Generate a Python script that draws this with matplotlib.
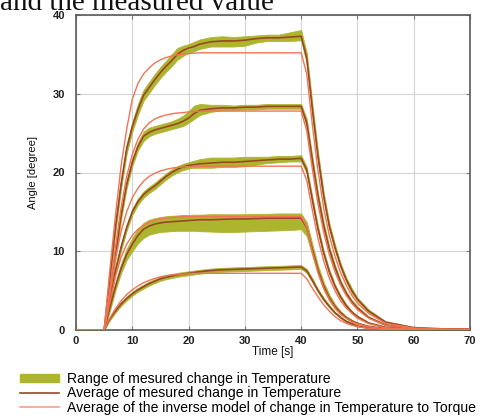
import matplotlib
matplotlib.use("Agg")
import matplotlib.pyplot as plt
from matplotlib.patches import Patch
from matplotlib.lines import Line2D

# Sample times [s]
t = [0, 5, 6, 7, 8, 9, 10, 11, 12, 13, 14, 15, 16, 17, 18, 19, 20, 21, 22,
     24, 26, 28, 30, 32, 34, 36, 38, 40,
     41, 42, 43, 44, 45, 46, 47, 48, 49, 50, 52, 55, 60, 65, 70]

# Level 1
mean1 = [0, 0, 6.5, 13, 18.5, 23, 25.8, 28, 29.8, 30.8, 31.8, 32.7, 33.5, 34.2, 35.0, 35.5, 35.8, 36.0, 36.3,
         36.6, 36.7, 36.7, 36.8, 37.0, 37.1, 37.1, 37.2, 37.3,
         34.5, 28.0, 22.0, 17.0, 13.2, 10.5, 8.2, 6.4, 5.0, 3.9, 2.4, 1.0, 0.3, 0.15, 0.1]
lo1 = [0, 0, 6.0, 12.4, 17.9, 22.4, 25.2, 27.3, 29.1, 30.1, 31.1, 32.0, 32.8, 33.5, 34.3, 34.8, 35.2, 35.4, 35.7,
       36.0, 36.0, 36.0, 36.1, 36.5, 36.7, 36.7, 36.7, 36.8,
       33.8, 27.3, 21.4, 16.5, 12.8, 10.1, 7.9, 6.1, 4.7, 3.7, 2.2, 0.9, 0.25, 0.12, 0.08]
hi1 = [0, 0, 7.0, 13.6, 19.1, 23.6, 26.4, 28.7, 30.5, 31.5, 32.5, 33.4, 34.2, 35.0, 35.8, 36.1, 36.3, 36.6, 36.9,
       37.2, 37.3, 37.2, 37.3, 37.4, 37.5, 37.5, 37.8, 38.1,
       35.2, 28.7, 22.6, 17.5, 13.6, 10.9, 8.5, 6.7, 5.3, 4.1, 2.6, 1.1, 0.35, 0.18, 0.12]
model1 = [0, 0, 7.5, 14.5, 20.8, 25.5, 29.3, 31.3, 32.5, 33.3, 33.9, 34.3, 34.6, 34.8, 34.95, 35.05, 35.1, 35.15, 35.2,
          35.2, 35.2, 35.2, 35.2, 35.2, 35.2, 35.2, 35.2, 35.2,
          32.5, 26.0, 20.2, 15.5, 12.0, 9.4, 7.3, 5.7, 4.4, 3.4, 2.1, 0.85, 0.25, 0.12, 0.08]

# Level 2
mean2 = [0, 0, 4.5, 9.5, 14.5, 18.5, 21.3, 23.3, 24.6, 25.1, 25.4, 25.6, 25.8, 26.0, 26.2, 26.5, 26.9, 27.5, 27.9,
         28.1, 28.2, 28.2, 28.3, 28.3, 28.4, 28.4, 28.4, 28.4,
         26.3, 21.5, 17.0, 13.3, 10.3, 8.0, 6.1, 4.7, 3.6, 2.8, 1.6, 0.65, 0.2, 0.1, 0.06]
lo2 = [0, 0, 4.1, 9.0, 14.0, 18.0, 20.8, 22.8, 24.0, 24.6, 24.9, 25.1, 25.3, 25.5, 25.7, 25.9, 26.3, 26.8, 27.3,
       27.7, 27.9, 27.9, 28.0, 28.0, 28.1, 28.1, 28.1, 28.1,
       25.8, 21.0, 16.6, 12.9, 10.0, 7.7, 5.9, 4.5, 3.4, 2.6, 1.5, 0.6, 0.17, 0.08, 0.05]
hi2 = [0, 0, 4.9, 10.0, 15.0, 19.0, 21.8, 23.8, 25.2, 25.7, 25.9, 26.1, 26.3, 26.5, 26.8, 27.2, 27.8, 28.5, 28.7,
       28.6, 28.6, 28.5, 28.6, 28.6, 28.7, 28.7, 28.7, 28.7,
       26.8, 22.0, 17.4, 13.7, 10.6, 8.3, 6.3, 4.9, 3.8, 3.0, 1.7, 0.7, 0.23, 0.12, 0.07]
model2 = [0, 0, 5.0, 10.5, 15.5, 19.5, 22.3, 24.2, 25.5, 26.3, 26.8, 27.1, 27.3, 27.45, 27.55, 27.6, 27.7, 27.75, 27.8,
          27.8, 27.8, 27.8, 27.8, 27.8, 27.8, 27.8, 27.8, 27.8,
          25.3, 20.4, 16.0, 12.4, 9.6, 7.4, 5.7, 4.4, 3.4, 2.6, 1.5, 0.6, 0.18, 0.09, 0.05]

# Level 3
mean3 = [0, 0, 3.5, 7.5, 10.5, 13.0, 15.0, 16.3, 17.2, 17.8, 18.3, 18.9, 19.5, 20.0, 20.4, 20.7, 20.9, 21.0, 21.1,
         21.2, 21.3, 21.3, 21.4, 21.5, 21.6, 21.7, 21.7, 21.8,
         20.3, 16.5, 12.8, 9.8, 7.4, 5.6, 4.2, 3.1, 2.3, 1.7, 0.9, 0.35, 0.1, 0.05, 0.03]
lo3 = [0, 0, 3.2, 7.1, 10.1, 12.6, 14.6, 15.9, 16.8, 17.4, 17.9, 18.5, 19.1, 19.6, 20.0, 20.3, 20.5, 20.6, 20.6,
       20.6, 20.7, 20.7, 20.8, 21.0, 21.2, 21.3, 21.4, 21.4,
       19.9, 16.1, 12.4, 9.5, 7.1, 5.4, 4.0, 2.9, 2.2, 1.6, 0.85, 0.32, 0.08, 0.04, 0.02]
hi3 = [0, 0, 3.8, 7.9, 10.9, 13.4, 15.4, 16.7, 17.6, 18.2, 18.7, 19.3, 19.9, 20.4, 20.8, 21.1, 21.3, 21.5, 21.7,
       21.9, 21.9, 21.9, 22.0, 22.0, 22.0, 22.1, 22.1, 22.2,
       20.7, 16.9, 13.2, 10.1, 7.7, 5.8, 4.4, 3.3, 2.4, 1.8, 0.95, 0.38, 0.12, 0.06, 0.04]
model3 = [0, 0, 4.5, 9.0, 12.5, 15.0, 16.8, 18.0, 18.9, 19.5, 19.9, 20.2, 20.4, 20.55, 20.65, 20.7, 20.75, 20.8, 20.8,
          20.8, 20.8, 20.8, 20.8, 20.8, 20.8, 20.8, 20.8, 20.8,
          19.0, 15.2, 11.6, 8.8, 6.6, 5.0, 3.7, 2.8, 2.1, 1.5, 0.8, 0.3, 0.08, 0.04, 0.02]

# Level 4
mean4 = [0, 0, 2.8, 5.5, 7.8, 9.6, 10.9, 12.0, 12.8, 13.2, 13.45, 13.6, 13.7, 13.75, 13.8, 13.85, 13.9, 13.95, 14.0,
         14.0, 14.05, 14.1, 14.1, 14.15, 14.2, 14.2, 14.2, 14.2,
         13.0, 10.2, 7.6, 5.6, 4.1, 3.0, 2.2, 1.6, 1.15, 0.85, 0.45, 0.18, 0.05, 0.03, 0.02]
lo4 = [0, 0, 2.4, 5.0, 7.2, 8.9, 10.0, 11.0, 11.7, 12.1, 12.3, 12.45, 12.5, 12.55, 12.6, 12.6, 12.6, 12.6, 12.55,
       12.5, 12.45, 12.45, 12.5, 12.55, 12.6, 12.65, 12.7, 12.8,
       11.9, 9.4, 7.0, 5.1, 3.7, 2.7, 2.0, 1.45, 1.05, 0.75, 0.4, 0.15, 0.04, 0.02, 0.01]
hi4 = [0, 0, 3.2, 6.0, 8.4, 10.3, 11.7, 12.8, 13.6, 14.0, 14.2, 14.35, 14.45, 14.5, 14.55, 14.6, 14.6, 14.65, 14.65,
       14.7, 14.7, 14.7, 14.7, 14.75, 14.75, 14.8, 14.8, 14.8,
       13.7, 10.9, 8.2, 6.1, 4.5, 3.3, 2.4, 1.75, 1.3, 0.95, 0.5, 0.21, 0.07, 0.04, 0.03]
model4 = [0, 0, 3.5, 6.8, 9.2, 10.9, 12.0, 12.8, 13.3, 13.7, 13.95, 14.1, 14.2, 14.3, 14.35, 14.4, 14.4, 14.4, 14.4,
          14.4, 14.4, 14.4, 14.4, 14.4, 14.4, 14.4, 14.4, 14.4,
          13.1, 9.9, 7.3, 5.3, 3.9, 2.8, 2.0, 1.5, 1.05, 0.78, 0.4, 0.16, 0.04, 0.02, 0.01]

# Level 5
mean5 = [0, 0, 1.4, 2.4, 3.3, 4.0, 4.6, 5.1, 5.5, 5.9, 6.2, 6.5, 6.7, 6.85, 7.0, 7.1, 7.2, 7.3, 7.4,
         7.55, 7.65, 7.7, 7.75, 7.8, 7.85, 7.9, 7.95, 8.0,
         7.5, 6.3, 5.0, 3.9, 3.0, 2.2, 1.6, 1.1, 0.8, 0.5, 0.25, 0.1, 0.04, 0.02, 0.01]
lo5 = [0, 0, 1.2, 2.2, 3.05, 3.75, 4.35, 4.85, 5.25, 5.65, 5.95, 6.25, 6.45, 6.6, 6.75, 6.85, 6.95, 7.05, 7.15,
       7.3, 7.4, 7.45, 7.5, 7.55, 7.6, 7.65, 7.7, 7.75,
       7.25, 6.05, 4.8, 3.7, 2.85, 2.1, 1.5, 1.0, 0.72, 0.45, 0.22, 0.08, 0.03, 0.01, 0.0]
hi5 = [0, 0, 1.6, 2.6, 3.55, 4.25, 4.85, 5.35, 5.75, 6.15, 6.45, 6.75, 6.95, 7.1, 7.25, 7.35, 7.45, 7.55, 7.65,
       7.8, 7.9, 7.95, 8.0, 8.05, 8.1, 8.15, 8.2, 8.25,
       7.75, 6.55, 5.2, 4.1, 3.15, 2.3, 1.7, 1.2, 0.88, 0.55, 0.28, 0.12, 0.05, 0.03, 0.02]
model5 = [0, 0, 1.5, 2.7, 3.7, 4.5, 5.1, 5.6, 6.0, 6.3, 6.55, 6.75, 6.9, 7.0, 7.05, 7.1, 7.15, 7.2, 7.2,
          7.2, 7.2, 7.2, 7.2, 7.2, 7.2, 7.2, 7.2, 7.2,
          6.5, 5.3, 4.2, 3.2, 2.4, 1.7, 1.2, 0.85, 0.6, 0.42, 0.2, 0.08, 0.02, 0.01, 0.0]

levels = [
    (lo1, hi1, mean1, model1),
    (lo2, hi2, mean2, model2),
    (lo3, hi3, mean3, model3),
    (lo4, hi4, mean4, model4),
    (lo5, hi5, mean5, model5),
]

legend_labels = [
    "Range of mesured change in Temperature",
    "Average of mesured change in Temperature",
    "Average of the inverse model of change in Temperature to Torque",
]

band_color = "#adb52f"
mean_color = "#9a4726"
model_color = "#f07454"

plt.rcParams["font.family"] = ["Liberation Sans", "DejaVu Sans"]

fig = plt.figure(figsize=(4.89, 4.16), dpi=100)
ax = fig.add_axes([76 / 489, 1 - 330 / 416, (470 - 76) / 489, (330 - 15) / 416])

for lo, hi, mean, model in levels:
    ax.fill_between(t, lo, hi, color=band_color, lw=0.6, edgecolor=band_color, zorder=2)
for lo, hi, mean, model in levels:
    ax.plot(t, mean, color=mean_color, lw=1.2, zorder=3)
for lo, hi, mean, model in levels:
    ax.plot(t, model, color=model_color, lw=1.0, zorder=4)

ax.set_xlim(0, 70)
ax.set_ylim(0, 40)
ax.set_xticks(range(0, 71, 10))
ax.set_yticks(range(0, 41, 10))
ax.grid(True, color="#d4d4d4", lw=0.8, zorder=0)
ax.set_axisbelow(True)
for s in ax.spines.values():
    s.set_color("#5a5a5a")
    s.set_linewidth(1.2)
ax.tick_params(direction="in", length=3, color="#7a7a7a", labelsize=8,
               labelcolor="#222222", top=True, right=True)
ax.tick_params(axis="x", pad=4)
ax.tick_params(axis="y", pad=8)
for lab in ax.get_xticklabels() + ax.get_yticklabels():
    lab.set_fontweight("bold")

ax.set_xlabel("Time [s]", fontsize=8.5, labelpad=0, color="#111111")
ax.set_ylabel("Angle [degree]", fontsize=8, labelpad=10, color="#111111")

handles = [
    Patch(facecolor=band_color, edgecolor=band_color),
    Line2D([], [], color=mean_color, lw=1.2),
    Line2D([], [], color="#f4a08a", lw=1.2),
]
fig.legend(handles, legend_labels, loc="upper left", bbox_to_anchor=(20 / 489, 1 - 372 / 416),
           frameon=False, fontsize=10.1, handlelength=2.8, handletextpad=0.55,
           labelspacing=0.02, borderpad=0, borderaxespad=0, handleheight=0.55)

fig.text(0.0, 1 - 9.5 / 416, "and the measured value", family=["Liberation Serif", "DejaVu Serif"],
         fontsize=21, va="baseline", ha="left", color="#111111")

fig.savefig("out.png", dpi=100)
